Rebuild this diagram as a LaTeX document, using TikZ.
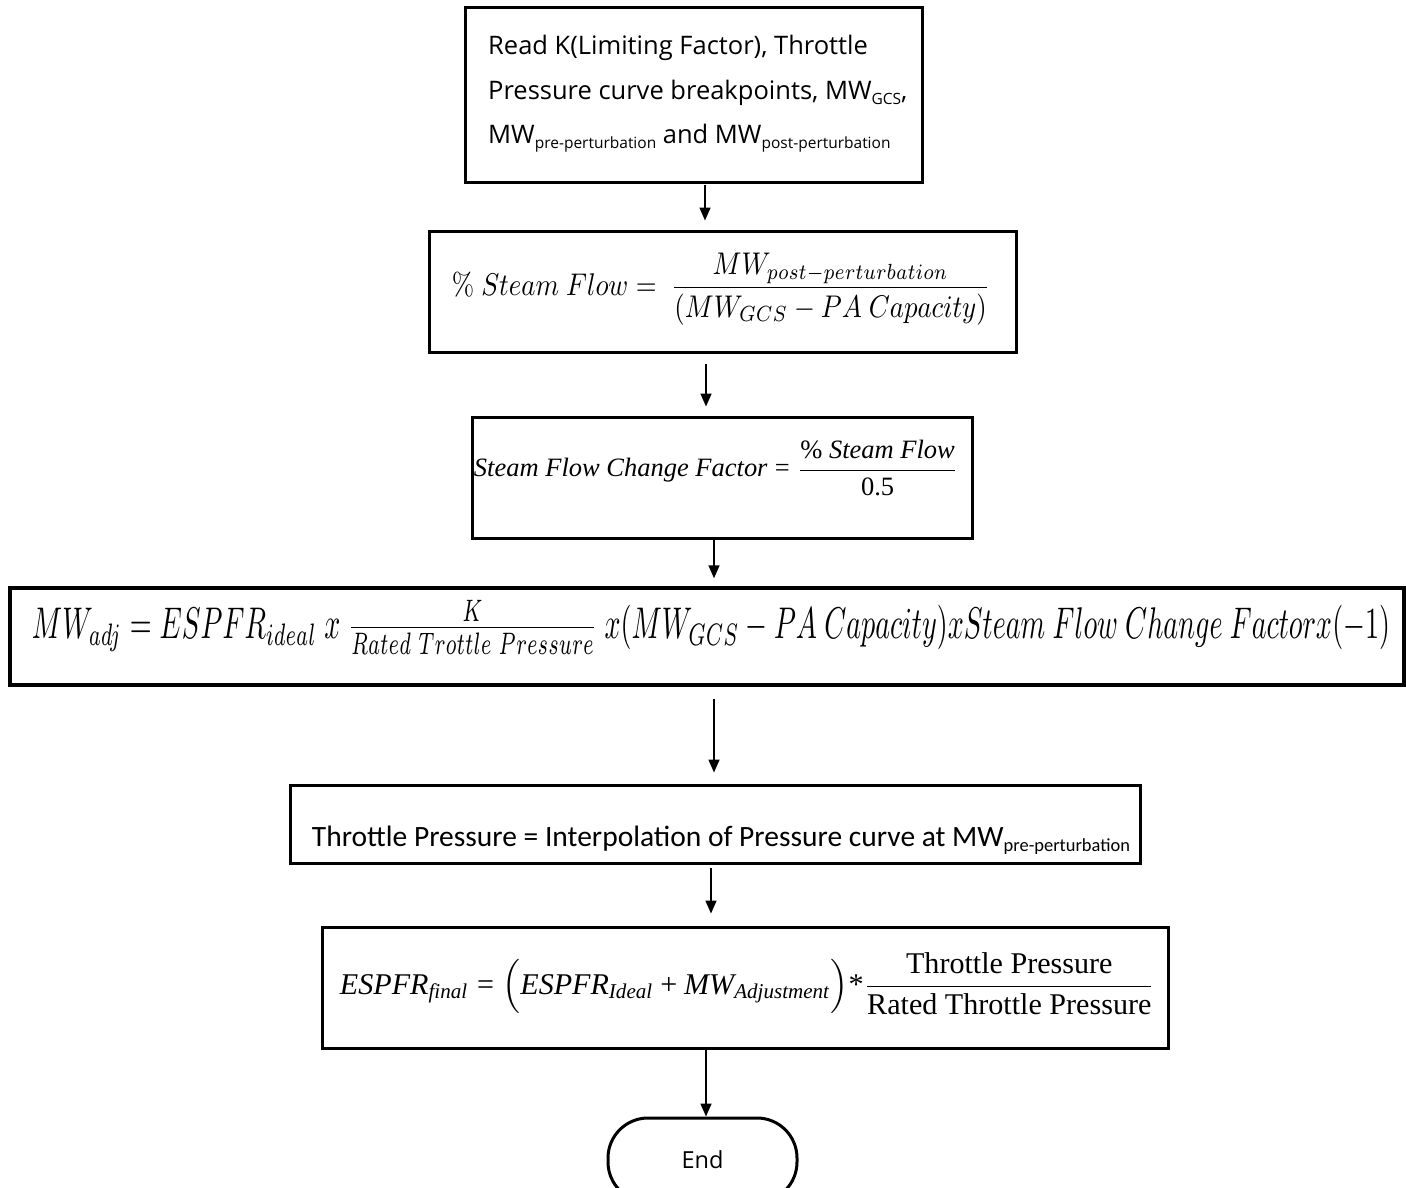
\documentclass[tikz,border=0pt]{standalone}
\usepackage{amsmath}
\usepackage[no-math]{fontspec}
\setmainfont{Open Sans}
\newfontfamily\timesf{Liberation Serif}
\newfontfamily\calf{Carlito}
\usetikzlibrary{arrows.meta,calc}
\newcommand{\tmi}[1]{\text{\timesf\itshape #1}}
\newcommand{\tmr}[1]{\text{\timesf\upshape #1}}
\newcommand{\mysub}[1]{\raisebox{-0.35ex}{\fontsize{15.5}{16}\selectfont #1}}
\begin{document}
\begin{tikzpicture}[x=1pt,y=-1pt,
  box/.style={draw, line width=3pt, inner sep=0pt},
  txt/.style={inner sep=0pt},
  arr/.style={line width=1.6pt, -{Triangle[width=11pt,length=13pt]}}]
\useasboundingbox (0,0) rectangle (1406,1188);
\fill[white] (0,0) rectangle (1406,1188);

% boxes
\node[box, minimum width=457pt, minimum height=175pt] (b1) at (693.5,95.5) {};
\node[box, minimum width=587pt, minimum height=121pt] (b2) at (722.5,291.5) {};
\node[box, minimum width=500pt, minimum height=121pt] (b3) at (722,477.5) {};
\node[box, line width=3.5pt, minimum width=1394pt, minimum height=97pt] (b4) at (707,636.5) {};
\node[box, minimum width=850pt, minimum height=78pt] (b5) at (715,824) {};
\node[box, minimum width=846pt, minimum height=121pt] (b6) at (745,987.5) {};
\node[box, rounded corners=40pt, minimum width=189pt, minimum height=84pt,
      font=\fontsize{23.5}{27}\selectfont] (end) at (702.5,1160) {End};

% texts
\node[txt, anchor=base west, font=\fontsize{25.5}{30}\selectfont] (t1a) at (488,55) {Read K(Limiting Factor), Throttle};
\node[txt, anchor=base west, font=\fontsize{25.5}{30}\selectfont] (t1b) at (488,100) {Pressure curve breakpoints, MW\mysub{GCS},};
\node[txt, anchor=base west, font=\fontsize{25.5}{30}\selectfont] (t1c) at (488,144) {MW\mysub{pre-perturbation} and MW\mysub{post-perturbation}};

\node[txt] (t2) at (721,289) {\resizebox*{538pt}{72pt}{$\displaystyle \%\ Steam\ Flow = \ \frac{MW_{post-perturbation}}{(MW_{GCS} - PA\ Capacity)}$}};

\node[txt] (t3) at (716,468) {\resizebox{484pt}{!}{$\tmi{Steam Flow Change Factor} \mathrel{\tmr{=}} \dfrac{\tmr{\%} \tmi{ Steam Flow}}{\tmr{0.5}}$}};

\node[txt] (t4) at (711,627) {\resizebox*{1358pt}{54pt}{$MW_{adj} = ESPFR_{ideal}\ x\ \tfrac{K}{Rated\ Trottle\ Pressure}\ x(MW_{GCS} - PA\ Capacity)xSteam\ Flow\ Change\ Factorx(-1)$}};

\node[txt] (t5) at (721,840) {\resizebox{818pt}{!}{\calf\fontsize{24}{28}\selectfont Throttle Pressure = Interpolation of Pressure curve at MW\raisebox{-0.35ex}{\fontsize{15}{16}\selectfont pre-perturbation}}};

\node[txt] (t6) at (747.5,984) {\resizebox{815pt}{!}{$\tmi{ESPFR}_{\tmi{final}} \mathrel{\tmr{=}} \Bigl(\tmi{ESPFR}_{\tmi{Ideal}} \mathbin{\tmr{+}} \tmi{MW}_{\tmi{Adjustment}}\Bigr)\tmr{*}\dfrac{\tmr{Throttle Pressure}}{\tmr{Rated Throttle Pressure}}$}};

% connectors
\draw[arr] ([xshift=11.5pt]b1.south) -- ([xshift=-17.5pt,yshift=9pt]b2.north);
\draw[arr] ([xshift=-16.5pt,yshift=-10pt]b2.south) -- ([xshift=-16pt,yshift=9pt]b3.north);
\draw[arr] ([xshift=-8pt]b3.south) -- ([xshift=7pt,yshift=8pt]b4.north);
\draw[arr] ([xshift=7pt,yshift=-12pt]b4.south) -- ([xshift=-1pt,yshift=11pt]b5.north);
\draw[arr] ([xshift=-4pt,yshift=-3pt]b5.south) -- ([xshift=-34pt,yshift=12pt]b6.north);
\draw[arr] ([xshift=-39pt]b6.south) -- ([xshift=3.5pt]end.north);
\end{tikzpicture}
\end{document}
